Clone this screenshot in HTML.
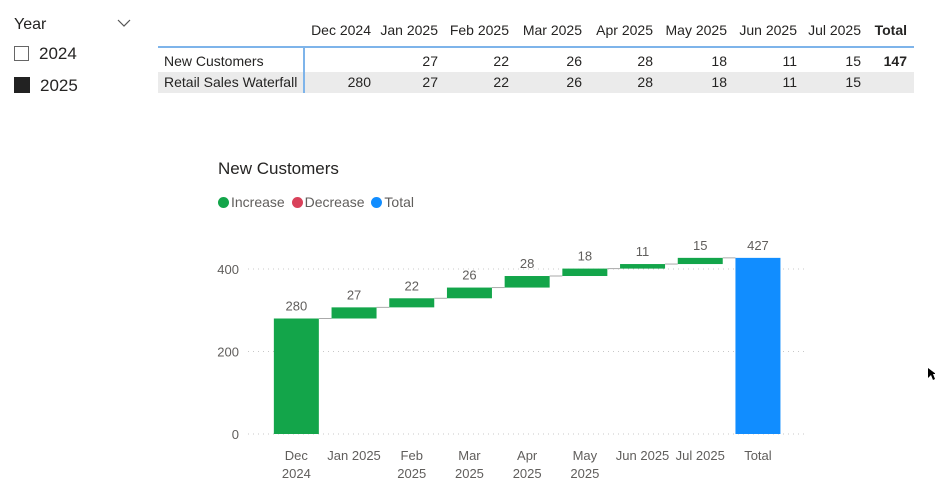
<!DOCTYPE html>
<html><head><meta charset="utf-8">
<style>
body{margin:0;width:935px;height:493px;background:#fff;font-family:"Liberation Sans",sans-serif;overflow:hidden;position:relative;color:#252423}
.abs{position:absolute;white-space:nowrap}
.tc{font-size:14px}
</style></head><body>
<div class="abs" style="left:14px;top:16px;font-size:16px">Year</div>
<svg class="abs" style="left:117px;top:19px" width="14" height="9"><polyline points="1,1 7,7 13,1" fill="none" stroke="#555" stroke-width="1.2"/></svg>
<div class="abs" style="left:14px;top:44px;font-size:17px"><span style="display:inline-block;width:15px;height:15px;border:1px solid #666;box-sizing:border-box;vertical-align:-2px;margin-right:10px"></span>2024</div>
<div class="abs" style="left:14px;top:76px;font-size:17px"><span style="display:inline-block;width:16px;height:16px;background:#222;vertical-align:-2px;margin-right:10px"></span>2025</div>

<div id="tbl"></div>

<div class="abs" style="left:218px;top:159px;font-size:17px;color:#252423">New Customers</div>
<div class="abs" style="left:218px;top:194px;font-size:14px;color:#605e5c">
<span><span style="display:inline-block;width:11px;height:11px;border-radius:50%;background:#13a54a;vertical-align:-1px;margin-right:2px"></span>Increase</span>
<span style="margin-left:3px"><span style="display:inline-block;width:11px;height:11px;border-radius:50%;background:#d9415a;vertical-align:-1px;margin-right:2px"></span>Decrease</span>
<span style="margin-left:3px"><span style="display:inline-block;width:11px;height:11px;border-radius:50%;background:#118dff;vertical-align:-1px;margin-right:2px"></span>Total</span>
</div>
<svg id="chart" class="abs" style="left:0;top:0" width="935" height="493"></svg>
<svg class="abs" style="left:927px;top:367px" width="10" height="14"><polygon points="1,1 1,11 4,8 6,13 8,12 6,7 9,7" fill="#000"/></svg>

<script>
const months=["Dec 2024","Jan 2025","Feb 2025","Mar 2025","Apr 2025","May 2025","Jun 2025","Jul 2025"];
const newCustomers=[null,27,22,26,28,18,11,15];
const waterfallRow=[280,27,22,26,28,18,11,15];
const tableTotal=147;
const catLines=[["Dec","2024"],["Jan 2025"],["Feb","2025"],["Mar","2025"],["Apr","2025"],["May","2025"],["Jun 2025"],["Jul 2025"],["Total"]];
const yTicks=[0,200,400];

// table
const colRight=[371,438,509,582,653,727,797,861];
const tbl=document.getElementById('tbl');
function cell(txt,x,y,align,extra,name){const d=document.createElement('div');d.className='abs tc';d.textContent=txt;
d.style.top=y+'px';if(align==='r'){d.style.right=(935-x)+'px';}else d.style.left=x+'px';if(extra)d.style.cssText+=extra;


tbl.appendChild(d);}
const bg=document.createElement('div');bg.className='abs';bg.style.cssText='left:158px;top:72px;width:756px;height:21px;background:#ebebeb';


tbl.appendChild(bg);
const hl=document.createElement('div');hl.className='abs';hl.style.cssText='left:158px;top:46px;width:756px;height:2px;background:#7eb4ea';


tbl.appendChild(hl);
const vl=document.createElement('div');vl.className='abs';vl.style.cssText='left:303px;top:47px;width:2px;height:46px;background:#7eb4ea';


tbl.appendChild(vl);
months.forEach((m,i)=>{cell(m,colRight[i],22,'r','','column-header');
 if(newCustomers[i]!==null)cell(String(newCustomers[i]),colRight[i],53,'r','','new-customers-value');
 cell(String(waterfallRow[i]),colRight[i],74,'r','','waterfall-value');});
cell('Total',907,22,'r','font-weight:bold','total-header');
cell(String(tableTotal),907,53,'r','font-weight:bold','new-customers-total');
cell('New Customers',164,53,'l','','row-label-new-customers');
cell('Retail Sales Waterfall',164,74,'l','','row-label-waterfall');

// chart
const svg=document.getElementById('chart');const NS='http://www.w3.org/2000/svg';
const y0=434,pxPer=165/400,x0=267.5,step=57.7,bw=45;
const Y=v=>y0-v*pxPer, X=i=>x0+step*i+step/2;
function el(t,a,name){const e=document.createElementNS(NS,t);for(const k in a)e.setAttribute(k,a[k]);


svg.appendChild(e);return e;}
yTicks.forEach(t=>{el('line',{x1:248,x2:805,y1:Y(t),y2:Y(t),stroke:'#c8c8c8','stroke-dasharray':'1,4'},'gridline');
 const tx=el('text',{x:239,y:Y(t)+5,'text-anchor':'end','font-size':13,fill:'#605e5c','font-family':'Liberation Sans'},'y-tick-label');tx.textContent=t;});
let cum=0;
waterfallRow.forEach((v,i)=>{const s=cum;cum+=v;
 el('rect',{x:X(i)-bw/2,y:Y(cum),width:bw,height:Y(s)-Y(cum),fill:'#13a54a'},'bar-'+i);
 el('line',{x1:X(i)+bw/2,x2:X(i+1)-bw/2,y1:Y(cum),y2:Y(cum),stroke:'#aaa','stroke-width':1},'connector');
 const t=el('text',{x:X(i),y:Y(cum)-8,'text-anchor':'middle','font-size':13,fill:'#605e5c','font-family':'Liberation Sans'},'data-label');t.textContent=v;});
el('rect',{x:X(8)-bw/2,y:Y(cum),width:bw,height:y0-Y(cum),fill:'#118dff'},'bar-total');
const tt=el('text',{x:X(8),y:Y(cum)-8,'text-anchor':'middle','font-size':13,fill:'#605e5c','font-family':'Liberation Sans'},'data-label-total');tt.textContent=cum;
catLines.forEach((c,i)=>c.forEach((ln,j)=>{const t=el('text',{x:X(i),y:460+j*18,'text-anchor':'middle','font-size':13,fill:'#605e5c','font-family':'Liberation Sans'},'x-tick-label');t.textContent=ln;}));
</script>
</body></html>
